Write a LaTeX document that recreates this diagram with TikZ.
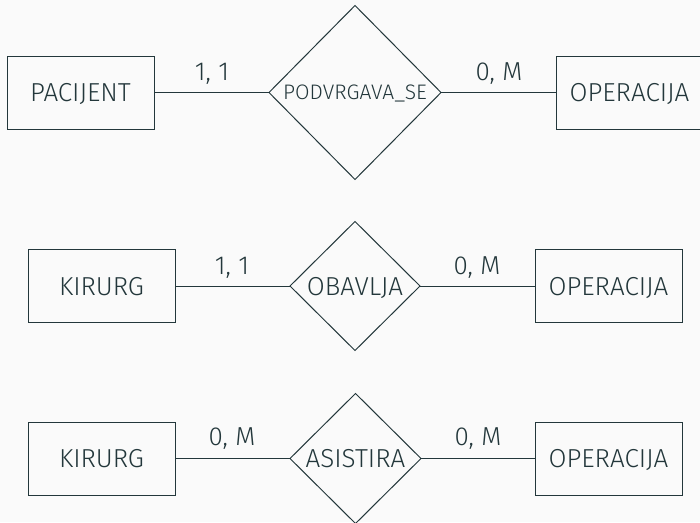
\documentclass[tikz,border=0pt]{standalone}
\usepackage{fontspec}
\setmainfont{Fira Sans Light}
\usetikzlibrary{shapes.geometric}
\definecolor{ink}{HTML}{23373B}
\definecolor{paper}{HTML}{FAFAFA}
\tikzset{
  entity/.style={draw=ink, line width=1pt, text=ink, minimum width=147pt,
    minimum height=73pt, inner sep=0pt, outer sep=0pt,
    font=\fontsize{26}{30}\selectfont, text height=18pt, text depth=0pt},
  relation/.style={draw=ink, line width=1pt, text=ink, diamond, aspect=1,
    inner sep=0pt, outer sep=0pt, text height=18pt, text depth=0pt,
    font=\fontsize{26}{30}\selectfont},
  card/.style={text=ink, anchor=base, inner sep=0pt,
    font=\fontsize{26}{30}\selectfont},
  link/.style={draw=ink, line width=1pt}
}
\begin{document}
\begin{tikzpicture}[x=1pt, y=-1pt]
  \fill[paper] (0,0) rectangle (700,522);
  \useasboundingbox (0,0) rectangle (700,522);
  \clip (0,0) rectangle (700,522);

  % PACIJENT -- PODVRGAVA_SE -- OPERACIJA
  \node[entity] (pac) at (80.5,92.5) {PACIJENT};
  \node[relation, minimum width=172pt, minimum height=174pt,
        font=\fontsize{21}{25}\selectfont, text height=14pt] (pod) at (355,92.5) {PODVRGAVA\_SE};
  \node[entity] (op1) at (629.5,92.5) {OPERACIJA};
  \draw[link] (pac) -- (pod);
  \draw[link] (pod) -- (op1);
  \node[card] (c11) at (212,80) {1, 1};
  \node[card] (c12) at (499,80) {0, M};

  % KIRURG -- OBAVLJA -- OPERACIJA
  \node[entity] (kir1) at (101.5,286) {KIRURG};
  \node[relation, minimum width=130pt, minimum height=129pt] (oba) at (355,286) {OBAVLJA};
  \node[entity] (op2) at (608.5,286) {OPERACIJA};
  \draw[link] (kir1) -- (oba);
  \draw[link] (oba) -- (op2);
  \node[card] (c21) at (232,274) {1, 1};
  \node[card] (c22) at (477,274) {0, M};

  % KIRURG -- ASISTIRA -- OPERACIJA
  \node[entity] (kir2) at (101.5,458.5) {KIRURG};
  \node[relation, minimum width=131pt, minimum height=130pt] (asi) at (355.5,458.5) {ASISTIRA};
  \node[entity] (op3) at (608.5,458.5) {OPERACIJA};
  \draw[link] (kir2) -- (asi);
  \draw[link] (asi) -- (op3);
  \node[card] (c31) at (232,445) {0, M};
  \node[card] (c32) at (478,445) {0, M};
\end{tikzpicture}
\end{document}
